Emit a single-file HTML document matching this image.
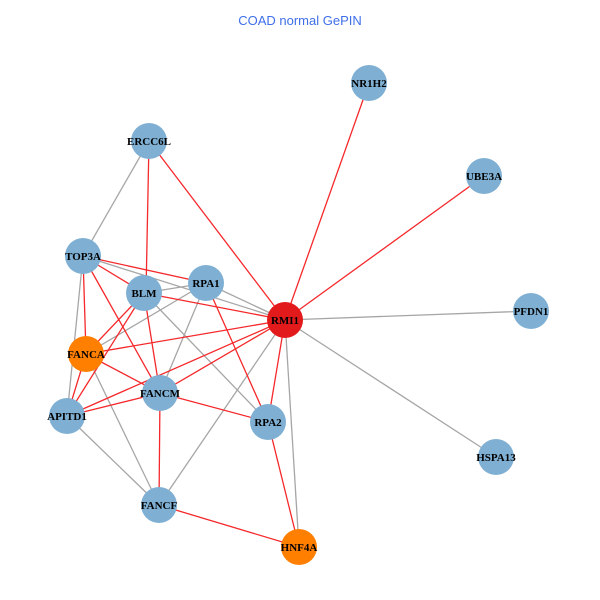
<!DOCTYPE html>
<html><head><meta charset="utf-8"><style>html,body{margin:0;padding:0;background:#fff}svg{display:block}</style></head>
<body>
<svg width="600" height="600" xmlns="http://www.w3.org/2000/svg">
<text x="300" y="25" text-anchor="middle" font-family="Liberation Sans, sans-serif" font-size="13" fill="#3f6fe8">COAD normal GePIN</text>
<g stroke="#a6a6a6" stroke-width="1.3" fill="none">
<line x1="149" y1="141" x2="83" y2="256"/>
<line x1="83" y1="256" x2="285" y2="320"/>
<line x1="83" y1="256" x2="67" y2="416"/>
<line x1="144" y1="293" x2="206" y2="283"/>
<line x1="206" y1="283" x2="285" y2="320"/>
<line x1="206" y1="283" x2="86" y2="354"/>
<line x1="206" y1="283" x2="160" y2="393"/>
<line x1="144" y1="293" x2="268" y2="422"/>
<line x1="285" y1="320" x2="531" y2="311"/>
<line x1="285" y1="320" x2="496" y2="457"/>
<line x1="285" y1="320" x2="299" y2="547"/>
<line x1="285" y1="320" x2="159" y2="505"/>
<line x1="86" y1="354" x2="159" y2="505"/>
<line x1="67" y1="416" x2="159" y2="505"/>
</g>
<g stroke="#f5282b" stroke-width="1.3" fill="none">
<line x1="285" y1="320" x2="369" y2="83"/>
<line x1="285" y1="320" x2="484" y2="176"/>
<line x1="285" y1="320" x2="149" y2="141"/>
<line x1="149" y1="141" x2="146" y2="293"/>
<line x1="83" y1="256" x2="206" y2="283"/>
<line x1="83" y1="256" x2="144" y2="293"/>
<line x1="83" y1="256" x2="86" y2="354"/>
<line x1="83" y1="256" x2="160" y2="393"/>
<line x1="144" y1="293" x2="285" y2="320"/>
<line x1="144" y1="293" x2="86" y2="354"/>
<line x1="144" y1="293" x2="67" y2="416"/>
<line x1="144" y1="293" x2="160" y2="393"/>
<line x1="206" y1="283" x2="268" y2="422"/>
<line x1="86" y1="354" x2="285" y2="320"/>
<line x1="86" y1="354" x2="160" y2="393"/>
<line x1="86" y1="354" x2="67" y2="416"/>
<line x1="67" y1="416" x2="285" y2="320"/>
<line x1="67" y1="416" x2="160" y2="393"/>
<line x1="160" y1="393" x2="285" y2="320"/>
<line x1="160" y1="393" x2="268" y2="422"/>
<line x1="160" y1="393" x2="159" y2="505"/>
<line x1="285" y1="320" x2="268" y2="422"/>
<line x1="268" y1="422" x2="299" y2="547"/>
<line x1="159" y1="505" x2="299" y2="547"/>
</g>
<g fill="#7fb0d3">
<circle cx="369" cy="83" r="18"/><circle cx="484" cy="176" r="18"/><circle cx="149" cy="141" r="18"/>
<circle cx="83" cy="256" r="18"/><circle cx="144" cy="293" r="18"/><circle cx="206" cy="283" r="18"/>
<circle cx="531" cy="311" r="18"/><circle cx="160" cy="393" r="18"/><circle cx="67" cy="416" r="18"/>
<circle cx="268" cy="422" r="18"/><circle cx="496" cy="457" r="18"/><circle cx="159" cy="505" r="18"/>
</g>
<circle cx="285" cy="320" r="18" fill="#e31a1c"/>
<circle cx="86" cy="354" r="18" fill="#ff7f00"/>
<circle cx="299" cy="547" r="18" fill="#ff7f00"/>
<g font-family="Liberation Serif, serif" font-size="11" font-weight="bold" text-anchor="middle" fill="#000">
<text x="369" y="87">NR1H2</text><text x="484" y="180">UBE3A</text><text x="149" y="145">ERCC6L</text>
<text x="83" y="260">TOP3A</text><text x="144" y="297">BLM</text><text x="206" y="287">RPA1</text>
<text x="285" y="324">RMI1</text><text x="531" y="315">PFDN1</text><text x="86" y="358">FANCA</text>
<text x="160" y="397">FANCM</text><text x="67" y="420">APITD1</text><text x="268" y="426">RPA2</text>
<text x="496" y="461">HSPA13</text><text x="159" y="509">FANCF</text><text x="299" y="551">HNF4A</text>
</g>
</svg>
</body></html>
